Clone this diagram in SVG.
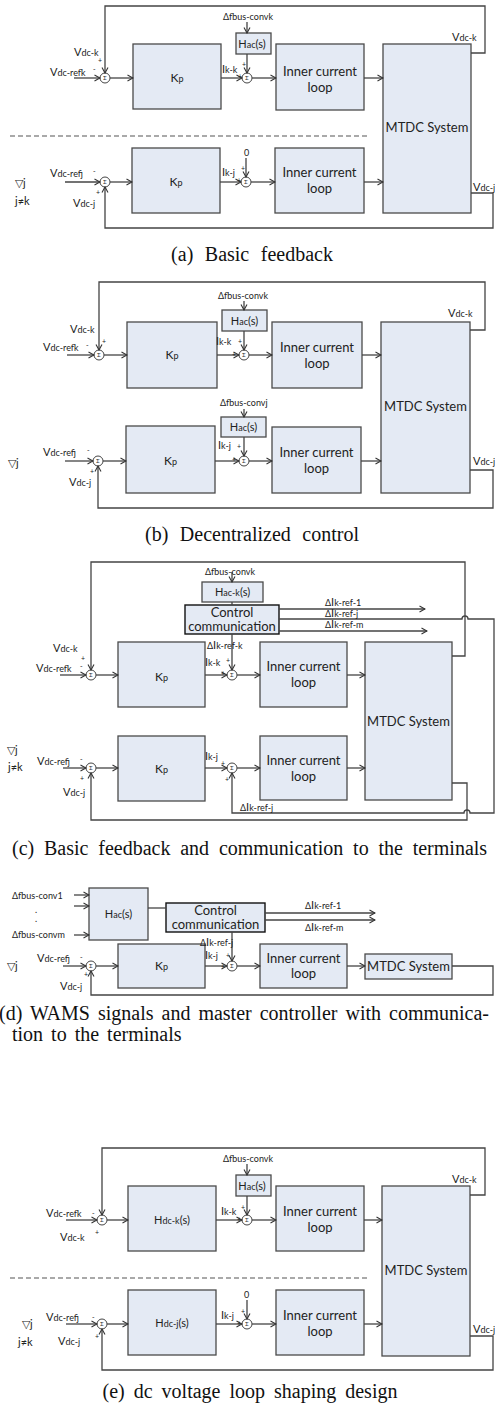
<svg xmlns="http://www.w3.org/2000/svg" width="495" height="1406" viewBox="0 0 495 1406">
<defs>
<style>
.bx{fill:#e4eaf4;stroke:#4a4a4a;stroke-width:1.3}
.cb{fill:#e4eaf4;stroke:#111;stroke-width:1.4}
.ln{fill:none;stroke:#444;stroke-width:1.3}
.ar{marker-end:url(#ah)}
.ds{fill:none;stroke:#555;stroke-width:1.2;stroke-dasharray:5 3}
.sm{fill:#fff;stroke:#444;stroke-width:1}
.t{font-family:Lato,"Liberation Sans",sans-serif;fill:#222}
.bg{font-size:13px}
.lb{font-size:11px}
.sb{font-size:9px}
.pm{font-size:7px}
.sg{font-size:5.5px}
.cap{font-family:"Liberation Serif",serif;font-size:20px;fill:#111;word-spacing:6.5px}
.m{text-anchor:middle}
</style>
<marker id="ah" viewBox="0 0 8 8" refX="7" refY="4" markerWidth="8" markerHeight="8" markerUnits="userSpaceOnUse" orient="auto"><path d="M1.5,1 L7,4 L1.5,7" fill="none" stroke="#333" stroke-width="1.1"/></marker>
</defs>
<rect width="495" height="1406" fill="#fff"/>

<!-- ===== (a) Basic feedback ===== -->
<g id="a-sum-k"><circle class="sm" cx="105" cy="78" r="5"/><text class="t sg m" x="105" y="80">Σ</text></g>
<g id="a-kp-k"><rect class="bx" x="133" y="44" width="88" height="65"/><text class="t m" x="177" y="82"><tspan font-size="12">K</tspan><tspan font-size="9">p</tspan></text></g>
<g id="a-hac-k"><rect class="bx" x="236" y="33" width="35" height="21"/><text class="t m" x="252" y="47.5"><tspan font-size="11">H</tspan><tspan font-size="9">ac</tspan><tspan font-size="11">(s)</tspan></text></g>
<g id="a-sum-ik"><circle class="sm" cx="247" cy="78" r="5"/><text class="t sg m" x="247" y="80">Σ</text></g>
<g id="a-icl-k"><rect class="bx" x="276" y="44" width="88" height="66"/><text class="t bg m" x="320" y="76">Inner current</text><text class="t bg m" x="320" y="92">loop</text></g>
<g id="a-mtdc"><rect class="bx" x="383" y="44" width="88" height="169"/><text class="t bg m" x="427" y="132">MTDC System</text></g>
<g id="a-sum-j"><circle class="sm" cx="105" cy="182" r="5"/><text class="t sg m" x="105" y="184">Σ</text></g>
<g id="a-kp-j"><rect class="bx" x="132" y="148" width="88" height="65"/><text class="t m" x="176" y="186"><tspan font-size="12">K</tspan><tspan font-size="9">p</tspan></text></g>
<g id="a-sum-ij"><circle class="sm" cx="246" cy="182" r="5"/><text class="t sg m" x="246" y="184">Σ</text></g>
<g id="a-icl-j"><rect class="bx" x="275" y="148" width="89" height="65"/><text class="t bg m" x="319.5" y="177">Inner current</text><text class="t bg m" x="319.5" y="193">loop</text></g>

<g id="a-connectors">
<path class="ln ar" d="M74,78H100"/>
<path class="ln ar" d="M110,78H133"/>
<path class="ln ar" d="M221,78H242"/>
<path class="ln ar" d="M247,22V33"/>
<path class="ln ar" d="M247,54V73"/>
<path class="ln ar" d="M252,78H276"/>
<path class="ln ar" d="M364,78H383"/>
<path class="ln ar" d="M471,53H485V6H105V73"/>
<path class="ds" d="M10,136H368"/>
<path class="ln ar" d="M65,182H100"/>
<path class="ln ar" d="M110,182H132"/>
<path class="ln ar" d="M220,182H241"/>
<path class="ln ar" d="M246,158V177"/>
<path class="ln ar" d="M251,182H275"/>
<path class="ln ar" d="M364,182H383"/>
<path class="ln ar" d="M471,193H493V228H105V187"/>
</g>
<g id="a-labels">
<text class="t lb" x="74" y="56">V<tspan class="sb">dc-k</tspan></text>
<text class="t pm" x="98" y="63">+</text>
<text class="t pm" x="93" y="72">-</text>
<text class="t lb" x="50" y="76">V<tspan class="sb">dc-refk</tspan></text>
<text class="t sb" x="223" y="20">Δfbus-convk</text>
<text class="t lb" x="222" y="73">I<tspan class="sb">k-k</tspan></text>
<text class="t pm" x="242" y="67">+</text>
<text class="t pm" x="238" y="79">+</text>
<text class="t lb" x="452" y="41">V<tspan class="sb">dc-k</tspan></text>
<text class="t lb" x="50" y="177">V<tspan class="sb">dc-refj</tspan></text>
<text class="t pm" x="93" y="174">-</text>
<text class="t pm" x="96" y="195">+</text>
<text class="t lb" x="73" y="207">V<tspan class="sb">dc-j</tspan></text>
<text class="t lb" x="15" y="187">▽j</text>
<text class="t lb" x="15" y="205">j≠k</text>
<text class="t sb" x="244" y="156">0</text>
<text class="t lb" x="222" y="176">I<tspan class="sb">k-j</tspan></text>
<text class="t pm" x="241" y="171">+</text>
<text class="t pm" x="237" y="183">+</text>
<text class="t lb" x="473" y="191">V<tspan class="sb">dc-j</tspan></text>
</g>
<text class="cap m" x="252" y="261">(a) Basic feedback</text>

<!-- ===== (b) Decentralized control ===== -->
<g id="b-sum-k"><circle class="sm" cx="99" cy="355" r="5"/><text class="t sg m" x="99" y="357">Σ</text></g>
<g id="b-kp-k"><rect class="bx" x="127" y="322" width="90" height="66"/><text class="t m" x="172" y="359"><tspan font-size="12">K</tspan><tspan font-size="9">p</tspan></text></g>
<g id="b-hac-k"><rect class="bx" x="222" y="310" width="45" height="21"/><text class="t m" x="244.5" y="324.5"><tspan font-size="11">H</tspan><tspan font-size="9">ac</tspan><tspan font-size="11">(s)</tspan></text></g>
<g id="b-sum-ik"><circle class="sm" cx="244" cy="355" r="5"/><text class="t sg m" x="244" y="357">Σ</text></g>
<g id="b-icl-k"><rect class="bx" x="272" y="322" width="90" height="66"/><text class="t bg m" x="317" y="352">Inner current</text><text class="t bg m" x="317" y="368">loop</text></g>
<g id="b-mtdc"><rect class="bx" x="381" y="322" width="89" height="171"/><text class="t bg m" x="425.5" y="411">MTDC System</text></g>
<g id="b-hac-j"><rect class="bx" x="221" y="417" width="45" height="20"/><text class="t m" x="243.5" y="431"><tspan font-size="11">H</tspan><tspan font-size="9">ac</tspan><tspan font-size="11">(s)</tspan></text></g>
<g id="b-sum-j"><circle class="sm" cx="98" cy="461" r="5"/><text class="t sg m" x="98" y="463">Σ</text></g>
<g id="b-kp-j"><rect class="bx" x="126" y="426" width="89" height="67"/><text class="t m" x="170.5" y="465"><tspan font-size="12">K</tspan><tspan font-size="9">p</tspan></text></g>
<g id="b-sum-ij"><circle class="sm" cx="244" cy="461" r="5"/><text class="t sg m" x="244" y="463">Σ</text></g>
<g id="b-icl-j"><rect class="bx" x="272" y="427" width="89" height="66"/><text class="t bg m" x="316.5" y="457">Inner current</text><text class="t bg m" x="316.5" y="473">loop</text></g>

<g id="b-connectors">
<path class="ln ar" d="M67,355H94"/>
<path class="ln ar" d="M104,355H127"/>
<path class="ln ar" d="M217,355H239"/>
<path class="ln ar" d="M244,301V310"/>
<path class="ln ar" d="M244,331V350"/>
<path class="ln ar" d="M249,355H272"/>
<path class="ln ar" d="M362,355H381"/>
<path class="ln ar" d="M470,330H485V282H99V350"/>
<path class="ln ar" d="M65,461H93"/>
<path class="ln ar" d="M103,461H126"/>
<path class="ln ar" d="M215,461H239"/>
<path class="ln ar" d="M244,409V417"/>
<path class="ln ar" d="M244,437V456"/>
<path class="ln ar" d="M249,461H272"/>
<path class="ln ar" d="M361,461H381"/>
<path class="ln ar" d="M470,470H493V508H98V466"/>
</g>
<g id="b-labels">
<text class="t lb" x="70" y="333">V<tspan class="sb">dc-k</tspan></text>
<text class="t pm" x="102" y="344">+</text>
<text class="t pm" x="86" y="348">-</text>
<text class="t lb" x="43" y="351">V<tspan class="sb">dc-refk</tspan></text>
<text class="t sb" x="218" y="299">Δfbus-convk</text>
<text class="t lb" x="216" y="345">I<tspan class="sb">k-k</tspan></text>
<text class="t pm" x="238" y="344">+</text>
<text class="t pm" x="232" y="357">+</text>
<text class="t lb" x="448" y="317">V<tspan class="sb">dc-k</tspan></text>
<text class="t sb" x="220" y="406">Δfbus-convj</text>
<text class="t lb" x="43" y="456">V<tspan class="sb">dc-refj</tspan></text>
<text class="t pm" x="87" y="453">-</text>
<text class="t pm" x="90" y="474">+</text>
<text class="t lb" x="69" y="486">V<tspan class="sb">dc-j</tspan></text>
<text class="t lb" x="8" y="467">▽j</text>
<text class="t lb" x="218" y="449">I<tspan class="sb">k-j</tspan></text>
<text class="t pm" x="237" y="449">+</text>
<text class="t pm" x="232" y="462">+</text>
<text class="t lb" x="473" y="465">V<tspan class="sb">dc-j</tspan></text>
</g>
<text class="cap m" x="252" y="541">(b) Decentralized control</text>

<!-- ===== (c) Basic feedback and communication ===== -->
<g id="c-hac-k"><rect class="bx" x="202" y="582" width="61" height="20"/><text class="t m" x="232.5" y="596"><tspan font-size="11">H</tspan><tspan font-size="9">ac-k</tspan><tspan font-size="11">(s)</tspan></text></g>
<g id="c-comm"><rect class="cb" x="185" y="605" width="94" height="29"/><text class="t bg m" x="232" y="617">Control</text><text class="t bg m" x="232" y="631">communication</text></g>
<g id="c-sum-k"><circle class="sm" cx="91" cy="675" r="5"/><text class="t sg m" x="91" y="677">Σ</text></g>
<g id="c-kp-k"><rect class="bx" x="118" y="642" width="87" height="65"/><text class="t m" x="161.5" y="681"><tspan font-size="12">K</tspan><tspan font-size="9">p</tspan></text></g>
<g id="c-sum-ik"><circle class="sm" cx="232" cy="675" r="5"/><text class="t sg m" x="232" y="677">Σ</text></g>
<g id="c-icl-k"><rect class="bx" x="260" y="642" width="87" height="65"/><text class="t bg m" x="303.5" y="671">Inner current</text><text class="t bg m" x="303.5" y="687">loop</text></g>
<g id="c-mtdc"><rect class="bx" x="365" y="642" width="87" height="158"/><text class="t bg m" x="408.5" y="726">MTDC System</text></g>
<g id="c-sum-j"><circle class="sm" cx="91" cy="768" r="5"/><text class="t sg m" x="91" y="770">Σ</text></g>
<g id="c-kp-j"><rect class="bx" x="118" y="736" width="87" height="65"/><text class="t m" x="161.5" y="773"><tspan font-size="12">K</tspan><tspan font-size="9">p</tspan></text></g>
<g id="c-sum-ij"><circle class="sm" cx="232" cy="768" r="5"/><text class="t sg m" x="232" y="770">Σ</text></g>
<g id="c-icl-j"><rect class="bx" x="260" y="736" width="87" height="64"/><text class="t bg m" x="303.5" y="765">Inner current</text><text class="t bg m" x="303.5" y="781">loop</text></g>

<g id="c-connectors">
<path class="ln ar" d="M232,572V582"/>
<path class="ln" d="M232,602V605"/>
<path class="ln ar" d="M279,609H425"/>
<path class="ln" d="M279,619H462a3,3 0 0 1 6,0H494V813H470a3,3 0 0 0 -6,0H232V773" marker-end="url(#ah)"/>
<path class="ln ar" d="M279,631H427"/>
<path class="ln ar" d="M232,634V670"/>
<path class="ln ar" d="M60,675H86"/>
<path class="ln ar" d="M96,675H118"/>
<path class="ln ar" d="M205,675H227"/>
<path class="ln ar" d="M237,675H260"/>
<path class="ln ar" d="M347,675H365"/>
<path class="ln ar" d="M452,656H465V562H91V670"/>
<path class="ln ar" d="M63,768H86"/>
<path class="ln ar" d="M96,768H118"/>
<path class="ln ar" d="M205,768H227"/>
<path class="ln ar" d="M237,768H260"/>
<path class="ln ar" d="M347,768H365"/>
<path class="ln ar" d="M452,783H467V820H91V773"/>
</g>
<g id="c-labels">
<text class="t sb" x="205" y="575">Δfbus-convk</text>
<text class="t sb" x="325" y="606">Δ<tspan font-size="11">I</tspan>k-ref-1</text>
<text class="t sb" x="325" y="617">Δ<tspan font-size="11">I</tspan>k-ref-j</text>
<text class="t sb" x="325" y="628">Δ<tspan font-size="11">I</tspan>k-ref-m</text>
<text class="t sb" x="207" y="649">Δ<tspan font-size="11">I</tspan>k-ref-k</text>
<text class="t lb" x="53" y="652">V<tspan class="sb">dc-k</tspan></text>
<text class="t pm" x="81" y="661">+</text>
<text class="t pm" x="80" y="669">-</text>
<text class="t lb" x="36" y="672">V<tspan class="sb">dc-refk</tspan></text>
<text class="t lb" x="205" y="666">I<tspan class="sb">k-k</tspan></text>
<text class="t pm" x="226" y="663">+</text>
<text class="t pm" x="221" y="676">+</text>
<text class="t lb" x="7" y="754">▽j</text>
<text class="t lb" x="8" y="771">j≠k</text>
<text class="t lb" x="37" y="765">V<tspan class="sb">dc-refj</tspan></text>
<text class="t pm" x="80" y="762">-</text>
<text class="t pm" x="80" y="781">+</text>
<text class="t lb" x="63" y="796">V<tspan class="sb">dc-j</tspan></text>
<text class="t lb" x="205" y="760">I<tspan class="sb">k-j</tspan></text>
<text class="t pm" x="221" y="766">+</text>
<text class="t pm" x="225" y="782">+</text>
<text class="t sb" x="240" y="811">Δ<tspan font-size="11">I</tspan>k-ref-j</text>
</g>
<text class="cap" x="12" y="855" style="word-spacing:4.8px">(c) Basic feedback and communication to the terminals</text>

<!-- ===== (d) WAMS signals and master controller ===== -->
<g id="d-hac"><rect class="bx" x="89" y="888" width="59" height="52"/><text class="t m" x="118.5" y="918"><tspan font-size="11">H</tspan><tspan font-size="9">ac</tspan><tspan font-size="11">(s)</tspan></text></g>
<g id="d-comm"><rect class="cb" x="166" y="903" width="99" height="29"/><text class="t bg m" x="215.5" y="915">Control</text><text class="t bg m" x="215.5" y="929">communication</text></g>
<g id="d-sum"><circle class="sm" cx="91" cy="966" r="5"/><text class="t sg m" x="91" y="968">Σ</text></g>
<g id="d-kp"><rect class="bx" x="118" y="944" width="87" height="44"/><text class="t m" x="161.5" y="970"><tspan font-size="12">K</tspan><tspan font-size="9">p</tspan></text></g>
<g id="d-sum-i"><circle class="sm" cx="232" cy="966" r="5"/><text class="t sg m" x="232" y="968">Σ</text></g>
<g id="d-icl"><rect class="bx" x="260" y="944" width="87" height="44"/><text class="t bg m" x="303.5" y="963">Inner current</text><text class="t bg m" x="303.5" y="978">loop</text></g>
<g id="d-mtdc"><rect class="bx" x="365" y="954" width="87" height="25"/><text class="t bg m" x="408.5" y="971">MTDC System</text></g>

<g id="d-connectors">
<path class="ln ar" d="M74,895H89"/>
<path class="ln ar" d="M74,906H89"/>
<path class="ln ar" d="M74,935H89"/>
<path class="ln" d="M148,908H166"/>
<path class="ln ar" d="M265,913H375"/>
<path class="ln ar" d="M265,920H375"/>
<path class="ln ar" d="M232,932V961"/>
<path class="ln ar" d="M63,966H86"/>
<path class="ln ar" d="M96,966H118"/>
<path class="ln ar" d="M205,966H227"/>
<path class="ln ar" d="M237,966H260"/>
<path class="ln ar" d="M347,966H365"/>
<path class="ln ar" d="M452,966H493V995H91V971"/>
</g>
<g id="d-labels">
<text class="t sb" x="12" y="899">Δfbus-conv1</text>
<text class="t sb" x="35" y="913">.</text>
<text class="t sb" x="35" y="922">.</text>
<text class="t sb" x="12" y="938">Δfbus-convm</text>
<text class="t sb" x="305" y="909">Δ<tspan font-size="11">I</tspan>k-ref-1</text>
<text class="t sb" x="305" y="931">Δ<tspan font-size="11">I</tspan>k-ref-m</text>
<text class="t sb" x="200" y="946">Δ<tspan font-size="11">I</tspan>k-ref-j</text>
<text class="t lb" x="37" y="962">V<tspan class="sb">dc-refj</tspan></text>
<text class="t pm" x="80" y="960">-</text>
<text class="t pm" x="84" y="977">+</text>
<text class="t lb" x="60" y="990">V<tspan class="sb">dc-j</tspan></text>
<text class="t lb" x="7" y="970">▽j</text>
<text class="t lb" x="205" y="959">I<tspan class="sb">k-j</tspan></text>
<text class="t pm" x="226" y="958">+</text>
<text class="t pm" x="221" y="969">+</text>
</g>
<text class="cap" x="-1" y="1020" style="word-spacing:3px">(d) WAMS signals and master controller with communica-</text>
<text class="cap" x="12" y="1041" style="word-spacing:3px">tion to the terminals</text>

<!-- ===== (e) dc voltage loop shaping ===== -->
<g id="e-sum-k"><circle class="sm" cx="102" cy="1220" r="5"/><text class="t sg m" x="102" y="1222">Σ</text></g>
<g id="e-hdc-k"><rect class="bx" x="128" y="1186" width="88" height="65"/><text class="t m" x="172" y="1224"><tspan font-size="11">H</tspan><tspan font-size="9">dc-k</tspan><tspan font-size="11">(s)</tspan></text></g>
<g id="e-hac-k"><rect class="bx" x="236" y="1175" width="35" height="21"/><text class="t m" x="252" y="1189.5"><tspan font-size="11">H</tspan><tspan font-size="9">ac</tspan><tspan font-size="11">(s)</tspan></text></g>
<g id="e-sum-ik"><circle class="sm" cx="247" cy="1220" r="5"/><text class="t sg m" x="247" y="1222">Σ</text></g>
<g id="e-icl-k"><rect class="bx" x="276" y="1186" width="88" height="65"/><text class="t bg m" x="320" y="1216">Inner current</text><text class="t bg m" x="320" y="1232">loop</text></g>
<g id="e-mtdc"><rect class="bx" x="382" y="1186" width="88" height="170"/><text class="t bg m" x="426" y="1275">MTDC System</text></g>
<g id="e-sum-j"><circle class="sm" cx="102" cy="1324" r="5"/><text class="t sg m" x="102" y="1326">Σ</text></g>
<g id="e-hdc-j"><rect class="bx" x="128" y="1290" width="88" height="65"/><text class="t m" x="172" y="1327"><tspan font-size="11">H</tspan><tspan font-size="9">dc-j</tspan><tspan font-size="11">(s)</tspan></text></g>
<g id="e-sum-ij"><circle class="sm" cx="247" cy="1324" r="5"/><text class="t sg m" x="247" y="1326">Σ</text></g>
<g id="e-icl-j"><rect class="bx" x="276" y="1290" width="88" height="65"/><text class="t bg m" x="320" y="1320">Inner current</text><text class="t bg m" x="320" y="1336">loop</text></g>

<g id="e-connectors">
<path class="ln ar" d="M66,1220H97"/>
<path class="ln ar" d="M107,1220H128"/>
<path class="ln ar" d="M216,1220H242"/>
<path class="ln ar" d="M247,1164V1175"/>
<path class="ln ar" d="M247,1196V1215"/>
<path class="ln ar" d="M252,1220H276"/>
<path class="ln ar" d="M364,1220H382"/>
<path class="ln ar" d="M470,1195H485V1148H102V1215"/>
<path class="ds" d="M10,1278H368"/>
<path class="ln ar" d="M66,1324H97"/>
<path class="ln ar" d="M107,1324H128"/>
<path class="ln ar" d="M216,1324H242"/>
<path class="ln ar" d="M247,1300V1319"/>
<path class="ln ar" d="M252,1324H276"/>
<path class="ln ar" d="M364,1324H382"/>
<path class="ln ar" d="M470,1336H493V1370H102V1329"/>
</g>
<g id="e-labels">
<text class="t sb" x="223" y="1162">Δfbus-convk</text>
<text class="t lb" x="46" y="1217">V<tspan class="sb">dc-refk</tspan></text>
<text class="t pm" x="92" y="1216">-</text>
<text class="t pm" x="95" y="1235">+</text>
<text class="t lb" x="60" y="1241">V<tspan class="sb">dc-k</tspan></text>
<text class="t lb" x="221" y="1215">I<tspan class="sb">k-k</tspan></text>
<text class="t pm" x="241" y="1210">+</text>
<text class="t pm" x="237" y="1222">+</text>
<text class="t lb" x="452" y="1183">V<tspan class="sb">dc-k</tspan></text>
<text class="t lb" x="46" y="1321">V<tspan class="sb">dc-refj</tspan></text>
<text class="t pm" x="92" y="1320">-</text>
<text class="t pm" x="95" y="1339">+</text>
<text class="t lb" x="58" y="1345">V<tspan class="sb">dc-j</tspan></text>
<text class="t lb" x="22" y="1328">▽j</text>
<text class="t lb" x="18" y="1346">j≠k</text>
<text class="t sb" x="244" y="1298">0</text>
<text class="t lb" x="221" y="1319">I<tspan class="sb">k-j</tspan></text>
<text class="t pm" x="241" y="1314">+</text>
<text class="t pm" x="237" y="1326">+</text>
<text class="t lb" x="473" y="1333">V<tspan class="sb">dc-j</tspan></text>
</g>
<text class="cap m" x="250" y="1398" style="word-spacing:4px">(e) dc voltage loop shaping design</text>
</svg>
